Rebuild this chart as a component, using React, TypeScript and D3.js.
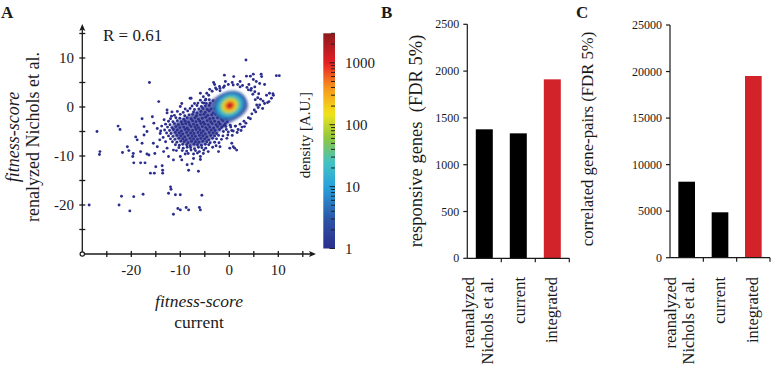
import React from 'react';
import * as d3 from 'd3';

// ---------- Panel A: fitness-score scatter ----------
const xTicksA = [-20, -10, 0, 10];
const yTicksA = [-20, -10, 0, 10];
const minorStepA = 5;
const rLabel = 'R = 0.61';

// density colour map (log scale, A.U.)
const densityStops = [1, 3, 10, 25, 60, 150, 400, 1000, 3000];
const densityColors = ['#2b2e8c', '#2d55a6', '#27a2dc', '#46c2c3', '#8dc63f', '#f1e31c', '#f7941d', '#e51f25', '#8c1a1c'];
const colorbarLabels = [1, 10, 100, 1000];

// low-density genes (single dots)
const sparsePoints: [number, number][] = [
  [-28.6, -20.0], [-27.0, -5.0], [-26.4, -9.1], [-26.5, -9.7], [-22.7, -3.9], [-22.3, -4.6],
  [-22.5, -20.0], [-20.3, -21.2], [-22.0, -18.2], [-19.5, -18.3], [-17.6, -17.8], [-16.3, 5.0],
  [3.4, 9.6], [-12.0, -16.3], [-11.9, -16.8], [-12.4, -17.6], [-11.0, -17.9], [-10.0, -17.9],
  [-11.4, -21.9], [-10.5, -20.7], [-10.0, -21.0], [-8.8, -20.5], [-8.3, -21.0], [-6.1, -20.5],
  [-5.9, -21.0], [-5.6, -18.0], [-8.3, -12.9], [-6.3, -13.1],
  [-20.8, -8.1], [-20.5, -8.9], [-21.8, -9.3], [-19.6, -9.5], [-19.7, -10.1], [-19.5, -11.4],
  [-18.1, -11.4], [-17.2, -11.4], [-16.1, -13.5], [-15.3, -13.5], [-13.6, -13.5], [-13.6, -12.9],
  [-13.7, -12.0], [-15.0, -12.2], [-16.4, -9.8], [-15.2, -9.5], [-16.8, -9.6], [-18.1, -9.1],
  [-17.8, -7.4], [-18.8, -6.7], [-19.1, -6.1], [-17.4, -5.7], [-16.8, -5.0], [-17.4, -4.0],
  [-17.8, -2.4], [-15.7, -2.0], [-15.4, -3.3], [-14.7, -4.4], [-14.1, -5.4], [-14.2, -6.7],
  [-13.0, -7.1], [-12.7, -8.4], [-11.4, -8.8], [-13.4, -9.1], [-14.7, -8.1], [-15.5, -7.4],
  [-12.4, -10.1], [-11.4, -10.8], [-10.0, -10.1], [-9.7, -10.8], [-9.0, -9.6], [-8.6, -11.8],
  [-7.6, -11.6], [-7.3, -10.5], [-5.9, -10.1], [-5.9, -10.7], [-5.3, -9.5], [-4.3, -9.1],
  [-2.2, -9.1], [-1.9, -8.1], [0.5, -7.4], [0.8, -8.1], [1.1, -8.4], [1.5, -8.8], [0.1, -8.4],
  [-14.4, 1.1], [-12.7, -0.6], [-12.7, -1.2], [-11.7, -1.0], [-10.0, 0.1], [-9.7, 0.7],
  [-7.8, 1.8], [-7.1, 0.7], [-5.9, 1.4], [-5.3, 2.1], [-4.6, 2.8], [-3.2, 5.0], [-2.6, 3.6],
  [-1.9, 3.3], [-1.2, 4.0], [-1.0, 6.5], [0.9, 6.2], [3.5, 6.3], [4.3, 6.3], [4.9, 6.7],
  [6.5, 6.7], [6.6, 6.2], [9.6, 6.4], [10.2, 6.4], [5.5, 5.2], [6.2, 4.8], [7.2, 4.6], [4.9, 5.6],
  [7.6, 2.4], [8.2, 2.8], [9.0, 2.4], [8.6, 1.8], [8.1, 1.1], [7.2, 0.7], [6.2, 0.4], [6.8, -0.3],
  [-5.9, 2.8], [-8.0, 1.8], [0.6, 5.0], [3.9, 3.5], [4.5, 3.8], [5.2, 4.1], [2.2, 4.1], [-1.9, 3.8],
  [8.9, 2.7], [7.8, 0.9],
  // rim of the central cluster
  [4.8, 2.6], [5.3, 1.5], [5.6, 0.4], [5.1, -0.6], [4.6, -1.4], [3.9, -2.2], [3.0, -2.9], [2.2, -3.5],
  [1.2, -3.9], [5.8, 1.9], [4.4, 3.4], [3.6, 4.0], [2.7, 4.4], [1.7, 4.6], [0.8, 4.5], [-0.2, 4.6],
  [-1.0, 4.3], [-2.0, 4.2], [-2.8, 3.9], [-3.5, 3.2], [-4.2, 2.4], [-4.8, 1.6], [-5.2, 0.8],
  [5.2, 3.1], [6.0, 2.7], [6.4, 1.6], [5.9, -0.1], [5.4, -1.0], [4.3, -2.4], [3.4, -3.3], [2.6, -4.1],
  [1.8, -4.6], [0.5, -4.8], [-0.6, -4.6], [-1.4, -4.0], [-0.8, -3.4], [0.2, -3.7], [6.9, 1.2],
  [4.0, 4.6], [2.2, 5.2], [-0.8, 5.2], [-3.0, 4.6], [-4.0, 3.6],
  // broad tail toward negative scores
  [-10.6, -0.9], [-9.4, -1.1], [-8.5, -0.8], [-7.3, -1.0], [-6.6, -1.2], [-5.8, -0.9], [-4.9, -1.1], [-4.1, -0.8], [-3.3, -1.2], [-2.5, -0.9], [-1.6, -1.1],
  [-11.2, -1.7], [-10.0, -1.5], [-9.1, -1.8], [-8.2, -1.6], [-7.5, -1.5], [-6.7, -1.8], [-5.9, -1.6], [-5.2, -1.5], [-4.4, -1.7], [-3.6, -1.6], [-2.8, -1.5], [-2.0, -1.8], [-1.1, -1.6],
  [-12.0, -2.4], [-10.9, -2.2], [-10.1, -2.3], [-9.3, -2.5], [-8.6, -2.2], [-7.8, -2.4], [-7.0, -2.2], [-6.3, -2.5], [-5.5, -2.3], [-4.8, -2.1], [-4.0, -2.4], [-3.3, -2.3], [-2.4, -2.2], [-1.6, -2.5], [-0.7, -2.3],
  [-12.4, -2.9], [-11.5, -3.0], [-10.6, -2.8], [-9.8, -3.0], [-9.0, -2.9], [-8.3, -3.1], [-7.5, -2.8], [-6.8, -3.0], [-6.0, -2.9], [-5.3, -3.1], [-4.5, -2.8], [-3.8, -3.0], [-3.0, -2.9], [-2.2, -3.1], [-1.3, -2.8], [-0.4, -3.0],
  [-13.0, -3.5], [-12.1, -3.6], [-11.2, -3.4], [-10.4, -3.6], [-9.6, -3.5], [-8.9, -3.4], [-8.1, -3.6], [-7.3, -3.5], [-6.6, -3.7], [-5.8, -3.4], [-5.0, -3.5], [-4.3, -3.6], [-3.5, -3.4], [-2.7, -3.6], [-1.9, -3.5], [-1.0, -3.7],
  [-12.6, -4.1], [-11.7, -4.2], [-10.9, -4.0], [-10.1, -4.2], [-9.3, -4.1], [-8.6, -4.3], [-7.8, -4.0], [-7.0, -4.1], [-6.3, -4.2], [-5.5, -4.0], [-4.8, -4.2], [-4.0, -4.1], [-3.2, -4.3], [-2.4, -4.0], [-1.6, -4.2],
  [-13.2, -4.7], [-12.2, -4.8], [-11.4, -4.6], [-10.6, -4.7], [-9.8, -4.9], [-9.0, -4.6], [-8.3, -4.7], [-7.5, -4.8], [-6.8, -4.6], [-6.0, -4.7], [-5.3, -4.9], [-4.5, -4.6], [-3.7, -4.7], [-2.9, -4.8], [-2.0, -4.6],
  [-12.8, -5.3], [-11.9, -5.4], [-11.0, -5.2], [-10.2, -5.3], [-9.5, -5.5], [-8.7, -5.2], [-7.9, -5.3], [-7.2, -5.4], [-6.4, -5.2], [-5.7, -5.3], [-4.9, -5.5], [-4.1, -5.2], [-3.3, -5.3], [-2.6, -5.4],
  [-12.4, -5.9], [-11.5, -6.0], [-10.7, -5.8], [-9.9, -5.9], [-9.1, -6.1], [-8.4, -5.8], [-7.6, -5.9], [-6.9, -6.0], [-6.1, -5.8], [-5.4, -5.9], [-4.6, -6.1], [-3.8, -5.8], [-3.0, -5.9],
  [-12.0, -6.5], [-11.1, -6.6], [-10.3, -6.4], [-9.5, -6.5], [-8.8, -6.7], [-8.0, -6.4], [-7.3, -6.5], [-6.5, -6.6], [-5.8, -6.4], [-5.0, -6.5], [-4.2, -6.7], [-3.4, -6.4],
  [-11.6, -7.1], [-10.7, -7.2], [-9.9, -7.0], [-9.2, -7.1], [-8.4, -7.3], [-7.7, -7.0], [-6.9, -7.1], [-6.2, -7.2], [-5.4, -7.0], [-4.6, -7.1], [-3.9, -7.3],
  [-11.0, -7.7], [-10.2, -7.8], [-9.5, -7.6], [-8.7, -7.7], [-8.0, -7.9], [-7.2, -7.6], [-6.5, -7.7], [-5.7, -7.8], [-4.9, -7.6], [-4.2, -7.7],
  [-10.3, -8.3], [-9.4, -8.4], [-8.6, -8.2], [-7.9, -8.3], [-7.1, -8.5], [-6.3, -8.2], [-5.6, -8.3], [-4.8, -8.4],
  [-9.6, -8.9], [-8.7, -9.0], [-7.8, -8.8], [-6.9, -8.9], [-6.1, -9.1], [-5.2, -8.8],
  [-8.4, -9.5], [-7.3, -9.6], [-6.5, -9.4],
  [-9.0, -0.4], [-8.0, -0.3], [-7.1, -0.5], [-6.2, -0.4], [-5.4, -0.3], [-4.5, -0.5], [-3.7, -0.4], [-2.9, -0.3],
  [-7.6, 0.2], [-6.6, 0.3], [-5.7, 0.1], [-4.9, 0.2], [-4.1, 0.3],
  [-6.4, 0.8], [-5.5, 0.9], [-4.7, 0.7], [-3.9, 0.8], [-4.9, 1.4], [-4.1, 1.5], [-3.3, 1.3],
  [-0.7, -4.0], [0.3, -4.1], [1.3, -3.9], [-1.2, -5.0], [-0.2, -5.1], [0.8, -4.9],
  [-2.2, -5.8], [-1.3, -5.9], [-0.3, -5.7], [0.6, -5.8], [-2.6, -6.5], [-1.6, -6.6], [-0.5, -6.4],
  [-3.0, -7.2], [-2.1, -7.3], [1.6, -5.2], [2.4, -4.8], [3.1, -4.0], [-13.8, -3.9], [-14.0, -4.9],
  [-13.5, -6.2], [-13.3, -2.6], [-11.8, -1.9], [-10.8, -8.9], [-3.4, -8.2], [-2.7, -7.9],
];

// outline of the region where dots merge into a solid mass (score units)
const massOutline: [number, number][] = [
  [-11.5, -3.6], [-10.0, -2.6], [-8.4, -1.8], [-6.8, -0.9], [-5.2, 0.2], [-3.8, 1.3], [-2.3, 2.2],
  [-0.5, 2.7], [1.3, 2.7], [2.8, 2.1], [3.6, 1.1], [3.8, 0.0], [3.2, -1.1], [2.0, -2.1], [0.5, -3.0],
  [-1.0, -4.1], [-2.4, -5.4], [-3.8, -6.7], [-5.3, -7.6], [-7.0, -8.0], [-8.8, -7.7], [-10.3, -6.8],
  [-11.4, -5.6], [-11.9, -4.5],
];

// nested density levels of the central cluster: [density, rx, ry] in score units
const coreCenter: [number, number] = [0.1, 0.3];
const coreLevels: [number, number, number][] = [
  [3, 3.5, 2.8],
  [8, 3.0, 2.4],
  [20, 2.5, 2.05],
  [50, 2.0, 1.65],
  [150, 1.6, 1.35],
  [400, 1.15, 1.0],
  [1000, 0.82, 0.72],
  [2200, 0.4, 0.36],
];

// ---------- Panels B and C: bar charts ----------
const categories: string[][] = [['reanalyzed', 'Nichols et al.'], ['current'], ['integrated']];
const responsiveGenes = [1378, 1335, 1912];
const correlatedPairs = [8165, 4877, 19520];
const barFills = ['#000000', '#000000', '#d2232a'];
const ticksB = [0, 500, 1000, 1500, 2000, 2500];
const ticksC = [0, 5000, 10000, 15000, 20000, 25000];

const FONT = '"Liberation Serif", "Times New Roman", serif';
const INK = '#1a1a1a';

function BarPanel(props: {
  letter: string; letterX: number; values: number[]; ticks: number[]; max: number;
  x0: number; x1: number; y0: number; y1: number; title: string; titleX: number; titleY: number;
  titleSize: number; labelOffsets: number[][];
}) {
  const { values, ticks, max, x0, x1, y0, y1 } = props;
  const xb = d3.scaleBand<number>().domain(values.map((_, i) => i)).range([x0, x1]).paddingInner(0.5).paddingOuter(0.25);
  const yb = d3.scaleLinear().domain([0, max]).range([y0, y1]);
  const step = (x1 - x0) / values.length;
  return (
    <g fontFamily={FONT} fill={INK}>
      <text x={props.letterX} y={18} fontSize={17} fontWeight="bold">{props.letter}</text>
      {values.map((v, i) => (
        <rect key={i} x={xb(i)} y={yb(v)} width={xb.bandwidth()} height={yb(0) - yb(v)} fill={barFills[i]} />
      ))}
      <line x1={x0} x2={x0} y1={yb(max)} y2={yb(0)} stroke={INK} strokeWidth={1.2} />
      <line x1={x0} x2={x1} y1={yb(0)} y2={yb(0)} stroke={INK} strokeWidth={1.2} />
      {ticks.map((t) => (
        <g key={t}>
          <line x1={x0 - 4} x2={x0} y1={yb(t)} y2={yb(t)} stroke={INK} strokeWidth={1.2} />
          <text x={x0 - 8} y={yb(t) + 4} fontSize={12} textAnchor="end">{t}</text>
        </g>
      ))}
      {values.map((_, i) => (
        <line key={i} x1={x0 + step * (i + 1)} x2={x0 + step * (i + 1)} y1={yb(0)} y2={yb(0) + 4} stroke={INK} strokeWidth={1.2} />
      ))}
      <text transform={`translate(${props.titleX},${props.titleY}) rotate(-90)`} fontSize={props.titleSize} textAnchor="middle" xmlSpace="preserve">
        {props.title}
      </text>
      {categories.map((lines, i) => {
        const cx = (xb(i) ?? 0) + xb.bandwidth() / 2;
        return lines.map((line, j) => (
          <text key={`${i}-${j}`} transform={`translate(${cx + props.labelOffsets[i][j]},277) rotate(-90)`} fontSize={16.5} textAnchor="end">
            {line}
          </text>
        ));
      })}
    </g>
  );
}

export default function App() {
  // panel A scales
  const x = d3.scaleLinear().domain([-30, 15]).range([82.3, 302.8]);
  const y = d3.scaleLinear().domain([-30, 15]).range([254, 33.5]);
  const color = d3.scaleLog<string>().domain(densityStops).range(densityColors).interpolate(d3.interpolateRgb).clamp(true);
  const cbar = d3.scaleLog().domain([1, 3000]).range([248.5, 33.3]);

  const ox = x(-30);
  const oy = y(-30);
  const minorA = d3.range(-25, 15 + 0.01, minorStepA);

  const gradStops = d3.range(0, 1.0001, 0.02).map((t) => {
    const v = Math.pow(3000, t);
    return { offset: `${(t * 100).toFixed(1)}%`, color: color(v) };
  });

  const cbTicks: { v: number; major: boolean }[] = [];
  [1, 10, 100, 1000].forEach((dec) => {
    for (let k = 1; k <= 9; k++) {
      const v = dec * k;
      if (v <= 3000) cbTicks.push({ v, major: k === 1 });
    }
  });

  const [ccx, ccy] = coreCenter;
  const pxPerUnitX = x(1) - x(0);
  const pxPerUnitY = y(0) - y(1);
  const massPath = d3.line<[number, number]>().x((d) => x(d[0])).y((d) => y(d[1])).curve(d3.curveCatmullRomClosed)(massOutline) ?? '';

  return (
    <svg width={772} height={371} style={{ position: 'absolute', left: 0, top: 0, background: '#fff' }} fontFamily={FONT}>
      <defs>
        <linearGradient id="densityGrad" x1="0" y1="1" x2="0" y2="0">
          {gradStops.map((s, i) => (
            <stop key={i} offset={s.offset} stopColor={s.color} />
          ))}
        </linearGradient>
        <filter id="soft" x="-50%" y="-50%" width="200%" height="200%">
          <feGaussianBlur stdDeviation={1.4} />
        </filter>
        <filter id="softMass" x="-20%" y="-20%" width="140%" height="140%">
          <feGaussianBlur stdDeviation={1.5} />
        </filter>
      </defs>
      <rect width={772} height={371} fill="#fff" />

      {/* Panel A */}
      <text x={1} y={18} fontSize={17} fontWeight="bold" fill={INK}>A</text>
      <g>
        <path d={massPath} fill={color(1.2)} opacity={0.7} filter="url(#softMass)" />
        {sparsePoints.map(([px, py], i) => (
          <circle key={i} cx={x(px)} cy={y(py)} r={1.45} fill={color(1)} />
        ))}
        <g filter="url(#soft)" transform={`rotate(-28 ${x(ccx)} ${y(ccy)})`}>
          {coreLevels.map(([lvl, rx, ry]) => (
            <ellipse key={lvl} cx={x(ccx)} cy={y(ccy)} rx={rx * pxPerUnitX} ry={ry * pxPerUnitY} fill={color(lvl)} />
          ))}
        </g>
      </g>

      {/* axes with arrows */}
      <g stroke={INK} strokeWidth={1.3} fill="none">
        <line x1={ox} x2={314} y1={oy} y2={oy} />
        <line x1={ox} x2={ox} y1={oy} y2={26} />
        {minorA.map((t) => (
          <line key={`xt${t}`} x1={x(t)} x2={x(t)} y1={oy - 3} y2={oy + 3} />
        ))}
        {minorA.map((t) => (
          <line key={`yt${t}`} x1={ox - 3} x2={ox + 3} y1={y(t)} y2={y(t)} />
        ))}
      </g>
      <path d={`M316,${oy} L309,${oy - 3} L310.5,${oy} L309,${oy + 3} Z`} fill={INK} />
      <path d={`M${ox},24 L${ox - 3},31 L${ox},29.5 L${ox + 3},31 Z`} fill={INK} />
      <circle cx={ox} cy={oy} r={2.2} fill="#fff" stroke={INK} strokeWidth={1.2} />

      {xTicksA.map((t) => (
        <text key={`xl${t}`} x={x(t)} y={275} fontSize={15} textAnchor="middle" fill={INK}>{t}</text>
      ))}
      {yTicksA.map((t) => (
        <text key={`yl${t}`} x={74} y={y(t) + 5} fontSize={15} textAnchor="end" fill={INK}>{t}</text>
      ))}
      <text x={103} y={41} fontSize={17} fill={INK}>{rLabel}</text>

      <text x={199} y={307} fontSize={17.5} fontStyle="italic" textAnchor="middle" fill={INK}>fitness-score</text>
      <text x={199} y={328} fontSize={17.5} textAnchor="middle" fill={INK}>current</text>
      <text transform="translate(19,137) rotate(-90)" fontSize={18} fontStyle="italic" textAnchor="middle" fill={INK}>fitness-score</text>
      <text transform="translate(39,137) rotate(-90)" fontSize={18} textAnchor="middle" fill={INK}>renalyzed Nichols et al.</text>

      {/* colour bar */}
      <rect x={323.3} y={cbar(3000)} width={11.7} height={cbar(1) - cbar(3000)} fill="url(#densityGrad)" />
      {cbTicks.map(({ v, major }) => (
        <line key={`cb${v}`} x1={major ? 329.5 : 331} x2={335} y1={cbar(v)} y2={cbar(v)} stroke="#222" strokeWidth={1} />
      ))}
      {colorbarLabels.map((v) => (
        <text key={`cl${v}`} x={345} y={cbar(v) + 5} fontSize={15} fill={INK}>{v}</text>
      ))}
      <text transform="translate(310,135) rotate(-90)" fontSize={15} textAnchor="middle" fill={INK}>density [A.U.]</text>

      {/* Panel B */}
      <BarPanel
        letter="B" letterX={381} values={responsiveGenes} ticks={ticksB} max={2500}
        x0={467.3} x1={569.3} y0={258.3} y1={24.3}
        title="responsive genes  (FDR 5%)" titleX={422} titleY={141} titleSize={18.5}
        labelOffsets={[[-10.5, 8.5], [6.5], [5]]}
      />

      {/* Panel C */}
      <BarPanel
        letter="C" letterX={576} values={correlatedPairs} ticks={ticksC} max={25000}
        x0={670} x1={770} y0={257.7} y1={25}
        title="correlated gene-pairs (FDR 5%)" titleX={593} titleY={139} titleSize={16.7}
        labelOffsets={[[-10.5, 7.5], [5], [4.5]]}
      />
    </svg>
  );
}
